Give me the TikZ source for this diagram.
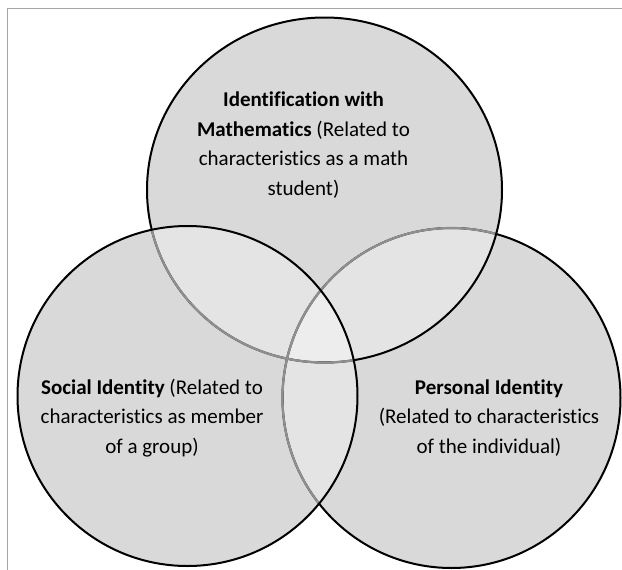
\documentclass[tikz,border=0pt]{standalone}
\usepackage{fontspec}
\setmainfont[RawFeature={-liga;-clig;-calt;-dlig}]{Carlito}
\usetikzlibrary{positioning}
\definecolor{setfill}{HTML}{D9D9D9}
\definecolor{pairfill}{HTML}{E4E4E4}
\definecolor{triplefill}{HTML}{EDEDED}
\definecolor{hiddenrim}{HTML}{8F8F8F}
\definecolor{framegray}{HTML}{A6A6A6}
\tikzstyle{rim}=[draw=black,line width=2pt]
\tikzstyle{rimlight}=[draw=hiddenrim,line width=2.2pt]
\tikzstyle{settext}=[align=center,text=black,font=\fontsize{21}{29.5}\selectfont]
\newcommand{\setM}{(324.5,190) ellipse [x radius=177.5pt, y radius=172.5pt]}
\newcommand{\setS}{(187.5,396) ellipse [x radius=170pt, y radius=170pt]}
\newcommand{\setP}{(451.5,398) ellipse [x radius=169pt, y radius=170pt]}
\begin{document}
\begin{tikzpicture}[x=1pt,y=-1pt]
  \useasboundingbox (0,0) rectangle (622,570);
  \draw[framegray,line width=1pt] (7,570) -- (7,8) -- (622,8);
  % fills
  \fill[setfill] \setM;
  \fill[setfill] \setS;
  \fill[setfill] \setP;
  \begin{scope}
    \clip \setM;
    \fill[pairfill] \setS;
    \fill[pairfill] \setP;
  \end{scope}
  \begin{scope}
    \clip \setS;
    \fill[pairfill] \setP;
    \clip \setM;
    \fill[triplefill] \setP;
  \end{scope}
  % outlines, back to front
  \draw[rim] \setP;
  \begin{scope}
    \clip \setM;
    \draw[rimlight] \setP;
  \end{scope}
  \draw[rim] \setM;
  \begin{scope}
    \clip \setS;
    \draw[rimlight] \setM;
    \draw[rimlight] \setP;
  \end{scope}
  \draw[rim] \setS;
  % texts
  \node[settext] (math) at (303.5,145) {\textbf{Identification with}\\\textbf{Mathematics} (Related to\\characteristics as a math\\student)};
  \node[settext] (social) at (152,418) {\textbf{Social Identity} (Related to\\characteristics as member\\of a group)};
  \node[settext] (personal) at (489,418) {\textbf{Personal Identity}\\(Related to characteristics\\of the individual)};
\end{tikzpicture}
\end{document}
